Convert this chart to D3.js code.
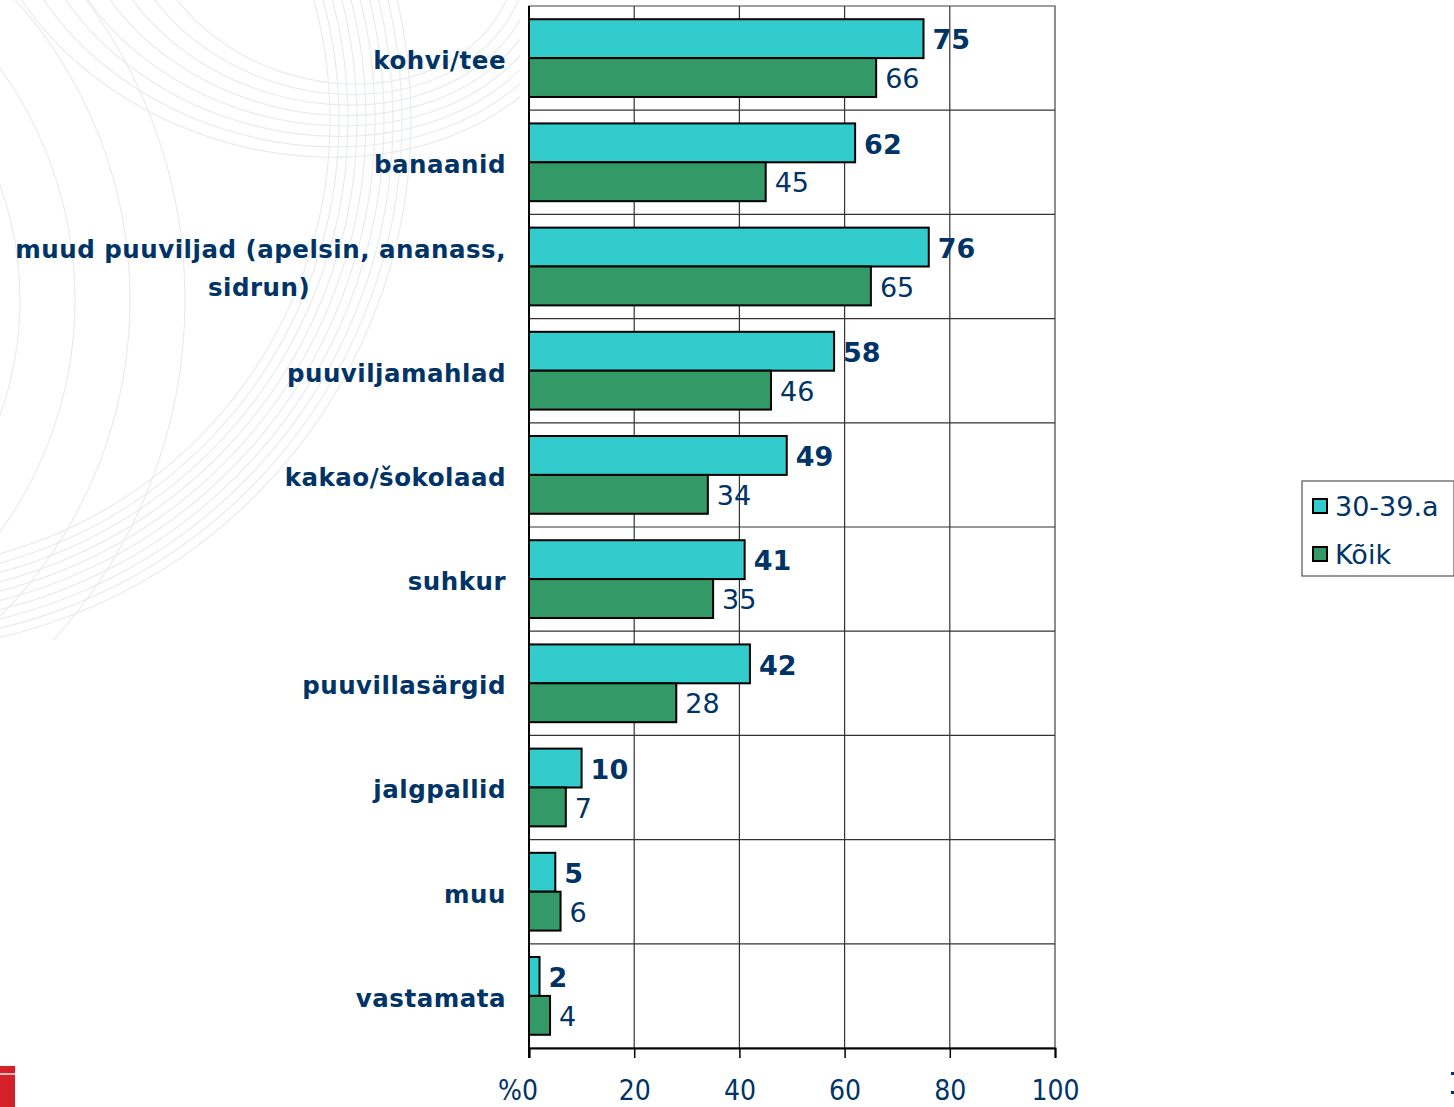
<!DOCTYPE html>
<html>
<head>
<meta charset="utf-8">
<script src="https://cdn.jsdelivr.net/npm/d3@7"></script>
<style>
  body { margin: 0; background: #fff; }
  svg { display: block; font-family: "DejaVu Sans", Verdana, sans-serif; }
</style>
</head>
<body>
<script>
// Chart data
var categories = ["kohvi/tee", "banaanid", "muud puuviljad (apelsin, ananass,|sidrun)", "puuviljamahlad",
    "kakao/šokolaad", "suhkur", "puuvillasärgid", "jalgpallid", "muu", "vastamata"];
var seriesNames = ["30-39.a", "Kõik"];
var values3039 = [75, 62, 76, 58, 49, 41, 42, 10, 5, 2];
var valuesKoik = [66, 45, 65, 46, 34, 35, 28, 7, 6, 4];
var tickValues = [0, 20, 40, 60, 80, 100];
var tickLabels = ["%0", "20", "40", "60", "80", "100"];

var colors = ["#33CCCC", "#339966"];
var navy = "#003366";

var width = 1454, height = 1107;
var plot = { left: 529, right: 1055, top: 6, bottom: 1048 };

var svg = d3.select("body").append("svg")
    .attr("width", width)
    .attr("height", height);

// faint background swirls (left side only)
svg.append("clipPath").attr("id", "bgclip")
    .append("rect").attr("width", 520).attr("height", 640);
var bg = svg.append("g")
    .attr("clip-path", "url(#bgclip)")
    .attr("fill", "none")
    .attr("stroke", "#e9ebee")
    .attr("stroke-width", 1.2);
for (var i = 0; i < 8; i++) {
    bg.append("ellipse")
        .attr("cx", 330 - i * 6).attr("cy", -70 - i * 4)
        .attr("rx", 190 + i * 18).attr("ry", 150 + i * 14)
        .attr("transform", "rotate(18," + (330 - i * 6) + "," + (-70 - i * 4) + ")");
}
for (var j = 0; j < 10; j++) {
    bg.append("circle")
        .attr("cx", -120).attr("cy", 120)
        .attr("r", 450 + j * 9);
}
for (var k = 0; k < 4; k++) {
    bg.append("circle")
        .attr("cx", -320).attr("cy", 300)
        .attr("r", 340 + k * 55);
}

var x = d3.scaleLinear().domain([0, 100]).range([plot.left, plot.right]);
var y = d3.scaleBand().domain(categories).range([plot.top, plot.bottom]).paddingInner(0).paddingOuter(0);
var inner = d3.scaleBand().domain(seriesNames).range([0, y.bandwidth()]).paddingOuter(0.34).paddingInner(0);

// plot background + gridlines
svg.append("rect")
    .attr("x", plot.left).attr("y", plot.top)
    .attr("width", plot.right - plot.left).attr("height", plot.bottom - plot.top)
    .attr("fill", "#fff").attr("stroke", "#808080").attr("stroke-width", 1.5);

svg.append("g").selectAll("line")
    .data(tickValues.slice(1))
    .join("line")
    .attr("x1", function (d) { return x(d); })
    .attr("x2", function (d) { return x(d); })
    .attr("y1", plot.top).attr("y2", plot.bottom)
    .attr("stroke", function (d) { return d === 100 ? "#808080" : "#333"; })
    .attr("stroke-width", 1.2);

svg.append("g").selectAll("line")
    .data(categories.slice(1))
    .join("line")
    .attr("x1", plot.left).attr("x2", plot.right)
    .attr("y1", function (d) { return y(d); })
    .attr("y2", function (d) { return y(d); })
    .attr("stroke", "#333").attr("stroke-width", 1.2);

// bars
var series = [values3039, valuesKoik];
var groups = svg.append("g").selectAll("g")
    .data(categories)
    .join("g")
    .attr("transform", function (d) { return "translate(0," + y(d) + ")"; });

groups.each(function (cat, ci) {
    var g = d3.select(this);
    seriesNames.forEach(function (s, si) {
        var v = series[si][ci];
        g.append("rect")
            .attr("x", x(0))
            .attr("y", inner(s))
            .attr("width", x(v) - x(0))
            .attr("height", inner.bandwidth())
            .attr("fill", colors[si])
            .attr("stroke", "#000")
            .attr("stroke-width", 2);
        g.append("text")
            .attr("x", x(v) + 9)
            .attr("y", inner(s) + inner.bandwidth() / 2 + 1)
            .attr("dy", "0.36em")
            .attr("fill", navy)
            .attr("font-size", 27)
            .attr("font-weight", si === 0 ? "bold" : "normal")
            .text(v);
    });
});

// category labels
groups.each(function (cat) {
    var lines = cat.split("|");
    var t = d3.select(this).append("text")
        .attr("fill", navy)
        .attr("font-size", 24.5)
        .attr("letter-spacing", 0.5)
        .attr("font-weight", "bold");
    lines.forEach(function (l, li) {
        var centered = lines.length > 1 && li > 0;
        t.append("tspan")
            .attr("x", centered ? 259 : 506)
            .attr("y", y.bandwidth() / 2 + 2 + (li - (lines.length - 1) / 2) * 38)
            .attr("dy", "0.36em")
            .attr("text-anchor", centered ? "middle" : "end")
            .text(l);
    });
});

// axes
var xAxis = d3.axisBottom(x)
    .tickValues(tickValues)
    .tickSize(10)
    .tickFormat(function (d, i) { return tickLabels[i]; });

var gx = svg.append("g")
    .attr("transform", "translate(0," + plot.bottom + ")")
    .call(xAxis);
gx.select(".domain").attr("stroke", "#000").attr("stroke-width", 2);
gx.selectAll(".tick line").attr("stroke", "#000").attr("stroke-width", 1.5);
gx.selectAll(".tick text")
    .attr("y", 42)
    .attr("dy", "0.36em")
    .attr("fill", navy)
    .attr("font-size", 28)
    .attr("font-family", "DejaVu Sans Condensed, DejaVu Sans, sans-serif")
    .attr("text-anchor", function (d) { return d === 0 ? "end" : "middle"; })
    .attr("dx", function (d) { return d === 0 ? "0.3em" : 0; });

svg.append("line")
    .attr("x1", plot.left).attr("x2", plot.left)
    .attr("y1", plot.top).attr("y2", plot.bottom + 10)
    .attr("stroke", "#000").attr("stroke-width", 2);

// legend
var legend = svg.append("g").attr("transform", "translate(1302,481)");
legend.append("rect")
    .attr("width", 152).attr("height", 95)
    .attr("fill", "#fff").attr("stroke", "#555").attr("stroke-width", 1.2);
seriesNames.forEach(function (s, i) {
    legend.append("rect")
        .attr("x", 11).attr("y", 18 + i * 48)
        .attr("width", 14).attr("height", 14)
        .attr("fill", colors[i]).attr("stroke", "#000").attr("stroke-width", 2);
    legend.append("text")
        .attr("x", 33).attr("y", 25 + i * 48)
        .attr("dy", "0.36em")
        .attr("fill", navy)
        .attr("font-size", 27)
        .text(s);
});

// corner decorations
svg.append("rect").attr("x", 0).attr("y", 1066).attr("width", 15).attr("height", 41).attr("fill", "#d42028");
svg.append("rect").attr("x", 0).attr("y", 1073).attr("width", 15).attr("height", 2).attr("fill", "#f4b8b8");
svg.append("rect").attr("x", 1451).attr("y", 1072).attr("width", 3).attr("height", 3).attr("fill", navy);
svg.append("rect").attr("x", 1451).attr("y", 1091).attr("width", 3).attr("height", 3).attr("fill", navy);
</script>
</body>
</html>
